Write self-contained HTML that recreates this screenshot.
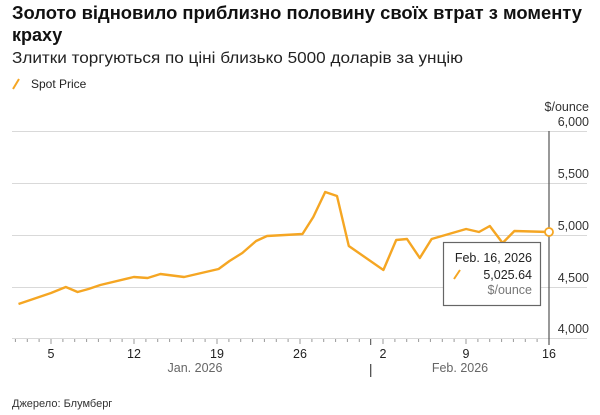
<!DOCTYPE html>
<html><head><meta charset="utf-8"><style>
html,body{margin:0;padding:0;background:#fff;}
svg{display:block;font-family:"Liberation Sans",Arial,sans-serif;}
</style></head><body>
<svg width="600" height="415" viewBox="0 0 600 415" xmlns="http://www.w3.org/2000/svg">
<text x="12" y="19" font-size="18" font-weight="bold" fill="#111" textLength="570" lengthAdjust="spacingAndGlyphs">Золото відновило приблизно половину своїх втрат з моменту</text>
<text x="12" y="41" font-size="18" font-weight="bold" fill="#111">краху</text>
<text x="12" y="63" font-size="15.5" fill="#222" textLength="451" lengthAdjust="spacingAndGlyphs">Злитки торгуються по ціні близько 5000 доларів за унцію</text>
<line x1="13" y1="89" x2="19" y2="79" stroke="#f5a623" stroke-width="2"/>
<text x="31" y="88" font-size="12" fill="#222">Spot Price</text>
<g stroke="#d9d9d9" stroke-width="1">
<line x1="12" y1="131.5" x2="587" y2="131.5"/>
<line x1="12" y1="183.5" x2="587" y2="183.5"/>
<line x1="12" y1="235.5" x2="587" y2="235.5"/>
<line x1="12" y1="287.5" x2="587" y2="287.5"/>
<line x1="12" y1="338.5" x2="587" y2="338.5"/>
</g>
<line x1="549" y1="131" x2="549" y2="345" stroke="#555" stroke-width="1.2"/>
<g font-size="12.5" fill="#333" text-anchor="end">
<text x="589" y="111">$/ounce</text>
<text x="589" y="126">6,000</text>
<text x="589" y="178">5,500</text>
<text x="589" y="230">5,000</text>
<text x="589" y="282">4,500</text>
<text x="589" y="333">4,000</text>
</g>
<g stroke="#999" stroke-width="1">
<line x1="15.4" y1="339" x2="15.4" y2="342"/><line x1="27.3" y1="339" x2="27.3" y2="342"/><line x1="39.1" y1="339" x2="39.1" y2="342"/><line x1="51" y1="339" x2="51" y2="344"/><line x1="62.9" y1="339" x2="62.9" y2="342"/><line x1="74.7" y1="339" x2="74.7" y2="342"/><line x1="86.6" y1="339" x2="86.6" y2="342"/><line x1="98.4" y1="339" x2="98.4" y2="342"/><line x1="110.3" y1="339" x2="110.3" y2="342"/><line x1="122.1" y1="339" x2="122.1" y2="342"/><line x1="134" y1="339" x2="134" y2="344"/><line x1="145.9" y1="339" x2="145.9" y2="342"/><line x1="157.7" y1="339" x2="157.7" y2="342"/><line x1="169.6" y1="339" x2="169.6" y2="342"/><line x1="181.4" y1="339" x2="181.4" y2="342"/><line x1="193.3" y1="339" x2="193.3" y2="342"/><line x1="205.1" y1="339" x2="205.1" y2="342"/><line x1="217" y1="339" x2="217" y2="344"/><line x1="228.9" y1="339" x2="228.9" y2="342"/><line x1="240.7" y1="339" x2="240.7" y2="342"/><line x1="252.6" y1="339" x2="252.6" y2="342"/><line x1="264.4" y1="339" x2="264.4" y2="342"/><line x1="276.3" y1="339" x2="276.3" y2="342"/><line x1="288.1" y1="339" x2="288.1" y2="342"/><line x1="300" y1="339" x2="300" y2="344"/><line x1="311.9" y1="339" x2="311.9" y2="342"/><line x1="323.7" y1="339" x2="323.7" y2="342"/><line x1="335.6" y1="339" x2="335.6" y2="342"/><line x1="347.4" y1="339" x2="347.4" y2="342"/><line x1="359.3" y1="339" x2="359.3" y2="342"/><line x1="370.7" y1="339" x2="370.7" y2="345" stroke="#444"/><line x1="383" y1="339" x2="383" y2="344"/><line x1="394.9" y1="339" x2="394.9" y2="342"/><line x1="406.7" y1="339" x2="406.7" y2="342"/><line x1="418.6" y1="339" x2="418.6" y2="342"/><line x1="430.4" y1="339" x2="430.4" y2="342"/><line x1="442.3" y1="339" x2="442.3" y2="342"/><line x1="454.1" y1="339" x2="454.1" y2="342"/><line x1="466" y1="339" x2="466" y2="344"/><line x1="477.9" y1="339" x2="477.9" y2="342"/><line x1="489.7" y1="339" x2="489.7" y2="342"/><line x1="501.6" y1="339" x2="501.6" y2="342"/><line x1="513.4" y1="339" x2="513.4" y2="342"/><line x1="525.3" y1="339" x2="525.3" y2="342"/><line x1="537.1" y1="339" x2="537.1" y2="342"/>
</g>
<g font-size="12.5" fill="#222" text-anchor="middle">
<text x="51" y="358">5</text><text x="134" y="358">12</text><text x="217" y="358">19</text><text x="300" y="358">26</text><text x="383" y="358">2</text><text x="466" y="358">9</text><text x="549" y="358">16</text>
</g>
<g font-size="12.5" fill="#666" text-anchor="middle">
<text x="195" y="372">Jan. 2026</text><text x="460" y="372">Feb. 2026</text>
</g>
<line x1="370.7" y1="364" x2="370.7" y2="377" stroke="#444" stroke-width="1.2"/>
<polyline fill="none" stroke="#f5a623" stroke-width="2.4" stroke-linejoin="round" points="18.5,304 51,293 65.8,287 77.6,292 88.5,289 100.3,285 133.8,277 147.6,278 160.4,274 184.1,277 218.6,269 229.5,261 242.3,253 256.1,241 267,236 302.5,234 313.3,217 325.2,192 337,196 348.8,246 383.4,270 396.2,240 407,239 419.8,258 431.6,239 466.1,229 479,232 489.8,226 502.6,243 514.4,231 549,232"/>
<circle cx="549" cy="232" r="4" fill="#fff" stroke="#f5a623" stroke-width="1.8"/>
<rect x="443.5" y="242.5" width="97" height="63" fill="#fff" stroke="#666" stroke-width="1.2"/>
<text x="532" y="262" font-size="12.5" fill="#222" text-anchor="end">Feb. 16, 2026</text>
<line x1="454" y1="279" x2="460" y2="270" stroke="#f5a623" stroke-width="2"/>
<text x="532" y="279" font-size="12.5" fill="#222" text-anchor="end">5,025.64</text>
<text x="532" y="294" font-size="12.5" fill="#777" text-anchor="end">$/ounce</text>
<text x="12" y="407" font-size="11" fill="#333">Джерело: Блумберг</text>
</svg>
</body></html>
